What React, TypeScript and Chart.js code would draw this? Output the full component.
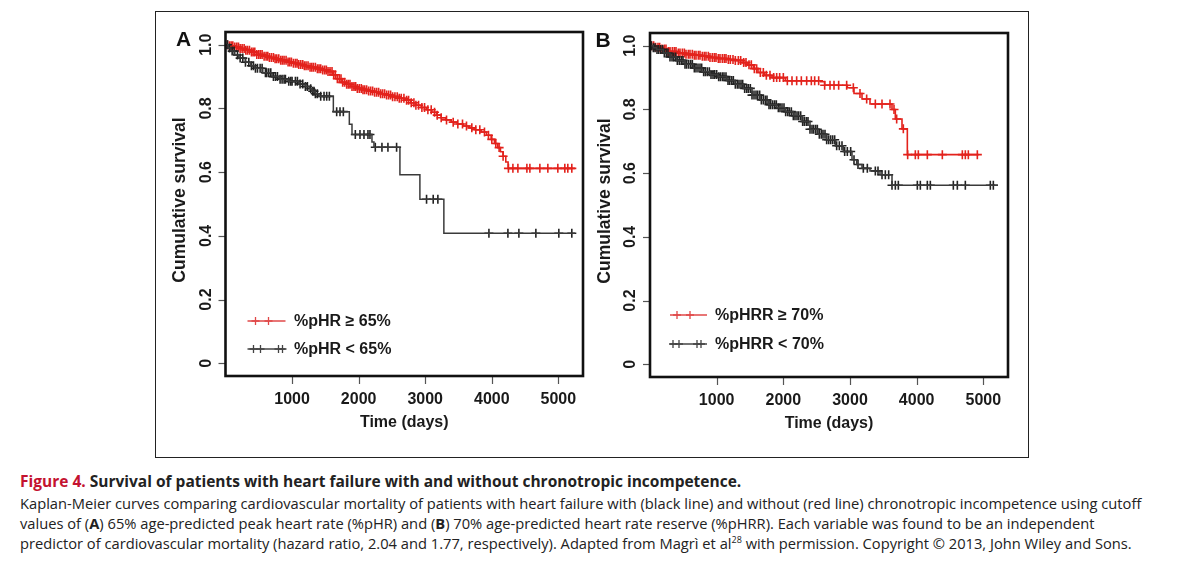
import React, { useEffect, useRef } from "react";
import { Chart, registerables } from "chart.js";
Chart.register(...registerables);

// ---------- axis ticks ----------
const X_TICKS = [1000, 2000, 3000, 4000, 5000];
const Y_TICKS = [0, 0.2, 0.4, 0.6, 0.8, 1.0];
const Y_TICK_LABELS = ["0", "0.2", "0.4", "0.6", "0.8", "1.0"];

// ---------- Panel A : %pHR >= 65% (red) ----------
const A_HI_TIME = [0, 45, 120, 210, 290, 380, 470, 560, 640, 730, 820, 915, 1000, 1090, 1180, 1270, 1360, 1450, 1530, 1610, 1680, 1750, 1810, 1880, 1960, 2050, 2140, 2230, 2330, 2420, 2510, 2600, 2690, 2780, 2860, 2940, 3020, 3100, 3170, 3240, 3310, 3390, 3480, 3570, 3660, 3750, 3840, 3920, 3990, 4040, 4090, 4130, 4170, 4210, 4245, 5250];
const A_HI_SURV = [1.0, 0.997, 0.993, 0.988, 0.983, 0.977, 0.969, 0.964, 0.96, 0.956, 0.951, 0.946, 0.942, 0.938, 0.934, 0.929, 0.925, 0.921, 0.916, 0.906, 0.893, 0.882, 0.876, 0.869, 0.863, 0.859, 0.855, 0.851, 0.846, 0.842, 0.837, 0.832, 0.826, 0.818, 0.81, 0.803, 0.796, 0.788, 0.779, 0.771, 0.764, 0.757, 0.751, 0.745, 0.739, 0.733, 0.726, 0.716, 0.703, 0.69, 0.677, 0.664, 0.65, 0.632, 0.612, 0.612];
const A_HI_CENSOR = [30, 60, 85, 110, 140, 170, 195, 220, 250, 280, 305, 330, 360, 390, 415, 440, 470, 500, 525, 550, 580, 610, 635, 660, 690, 720, 745, 770, 800, 830, 855, 880, 910, 940, 965, 990, 1020, 1050, 1075, 1100, 1130, 1160, 1185, 1210, 1240, 1270, 1295, 1320, 1350, 1380, 1405, 1430, 1460, 1490, 1515, 1540, 1570, 1600, 1625, 1650, 1680, 1710, 1735, 1760, 1790, 1820, 1845, 1870, 1900, 1930, 1955, 1980, 2010, 2040, 2065, 2090, 2120, 2150, 2180, 2210, 2240, 2270, 2300, 2330, 2360, 2390, 2420, 2450, 2480, 2510, 2545, 2580, 2610, 2640, 2680, 2720, 2750, 2790, 2830, 2860, 2900, 2950, 2990, 3040, 3090, 3140, 3180, 3240, 3320, 3420, 3490, 3560, 3620, 3700, 3760, 3820, 3890, 3950, 4000, 4060, 4110, 4170, 4250, 4317, 4392, 4527, 4572, 4722, 4842, 4992, 5097, 5142, 5202];

// ---------- Panel A : %pHR < 65% (black) ----------
const A_LO_TIME = [0, 40, 80, 140, 200, 300, 380, 440, 560, 700, 820, 950, 1100, 1200, 1260, 1300, 1350, 1400, 1620, 1860, 1900, 2200, 2230, 2620, 2920, 3280, 5250];
const A_LO_SURV = [1.0, 0.99, 0.98, 0.968, 0.958, 0.945, 0.934, 0.926, 0.912, 0.9, 0.892, 0.885, 0.877, 0.869, 0.862, 0.854, 0.846, 0.838, 0.79, 0.75, 0.718, 0.695, 0.678, 0.592, 0.515, 0.408, 0.408];
const A_LO_CENSOR = [30, 60, 100, 130, 180, 220, 260, 300, 350, 390, 420, 450, 480, 520, 550, 600, 620, 650, 680, 720, 750, 780, 820, 850, 880, 900, 950, 980, 1000, 1050, 1080, 1120, 1160, 1200, 1230, 1280, 1310, 1330, 1350, 1380, 1430, 1480, 1520, 1560, 1670, 1720, 1770, 1950, 2020, 2080, 2140, 2170, 2250, 2350, 2440, 2570, 3020, 3120, 3190, 3957, 4242, 4407, 4662, 5007, 5202];

// ---------- Panel B : %pHRR >= 70% (red) ----------
const B_HI_TIME = [0, 60, 150, 270, 400, 525, 650, 780, 900, 1020, 1150, 1275, 1400, 1470, 1550, 1620, 1720, 1830, 2030, 2560, 2620, 2960, 3060, 3180, 3300, 3630, 3680, 3780, 3860, 4930];
const B_HI_SURV = [1.0, 0.995, 0.99, 0.982, 0.977, 0.973, 0.97, 0.967, 0.963, 0.96, 0.957, 0.954, 0.947, 0.94, 0.928, 0.916, 0.907, 0.9, 0.89, 0.887, 0.876, 0.868, 0.85, 0.833, 0.817, 0.8, 0.77, 0.739, 0.658, 0.658];
const B_HI_CENSOR = [25, 55, 85, 120, 145, 180, 215, 240, 275, 300, 335, 365, 390, 425, 450, 485, 515, 540, 575, 600, 635, 665, 690, 725, 750, 785, 815, 840, 875, 900, 935, 965, 990, 1025, 1050, 1085, 1115, 1140, 1175, 1205, 1245, 1280, 1325, 1360, 1405, 1440, 1485, 1520, 1565, 1600, 1655, 1700, 1745, 1800, 1855, 1900, 1945, 2000, 2060, 2130, 2200, 2270, 2350, 2420, 2470, 2530, 2620, 2700, 2760, 2830, 2950, 3050, 3150, 3250, 3380, 3480, 3600, 3660, 3700, 3800, 3865, 3980, 4025, 4160, 4385, 4685, 4730, 4775, 4910];

// ---------- Panel B : %pHRR < 70% (black) ----------
const B_LO_TIME = [0, 50, 100, 200, 300, 400, 525, 650, 780, 900, 1020, 1150, 1275, 1400, 1530, 1650, 1780, 1900, 2030, 2150, 2280, 2400, 2520, 2650, 2780, 2900, 3030, 3100, 3180, 3300, 3450, 3630, 5220];
const B_LO_SURV = [1.0, 0.994, 0.988, 0.977, 0.965, 0.954, 0.942, 0.93, 0.918, 0.91, 0.903, 0.891, 0.879, 0.866, 0.845, 0.83, 0.815, 0.805, 0.793, 0.78, 0.762, 0.738, 0.722, 0.705, 0.686, 0.668, 0.642, 0.627, 0.615, 0.607, 0.595, 0.562, 0.562];
const B_LO_CENSOR = [20, 50, 75, 105, 130, 160, 190, 215, 245, 270, 300, 330, 355, 385, 410, 440, 470, 495, 525, 550, 580, 610, 635, 665, 690, 720, 750, 775, 805, 830, 860, 890, 915, 945, 970, 1000, 1030, 1055, 1085, 1110, 1140, 1170, 1195, 1225, 1250, 1280, 1310, 1335, 1365, 1390, 1420, 1450, 1475, 1505, 1530, 1560, 1590, 1615, 1645, 1670, 1700, 1730, 1755, 1785, 1810, 1840, 1870, 1895, 1925, 1950, 1980, 2010, 2035, 2065, 2090, 2120, 2150, 2175, 2205, 2230, 2260, 2290, 2315, 2345, 2370, 2400, 2430, 2455, 2485, 2510, 2540, 2570, 2595, 2625, 2650, 2680, 2710, 2740, 2770, 2800, 2840, 2880, 2920, 2960, 3010, 3060, 3120, 3200, 3260, 3380, 3420, 3480, 3530, 3580, 3630, 3680, 3725, 4010, 4055, 4160, 4205, 4550, 4610, 4730, 5105, 5150];

const RED = "#e3221c";
const BLACK = "#222";
const FONT = "'Liberation Sans', Arial, sans-serif";

function survAt(times: number[], surv: number[], t: number) {
  let v = surv[0];
  for (let i = 0; i < times.length; i++) if (times[i] <= t) v = surv[i];
  return v;
}
const toPts = (t: number[], s: number[]) => t.map((x, i) => ({ x, y: s[i] }));
const censorPts = (c: number[], t: number[], s: number[]) => c.map((x) => ({ x, y: survAt(t, s, x) }));

type PanelCfg = {
  letter: string;
  letterDx: number;
  hi: [number[], number[], number[]];
  lo: [number[], number[], number[]];
  hiLabel: string;
  loLabel: string;
  legX0: number; legX1: number; legTextX: number;
  legRedY: number; legBlackY: number;
  redMarks: number[]; blackMarks: number[];
  pad: { left: number; top: number; right: number; bottom: number };
  left: number;
};

function cross(ctx: CanvasRenderingContext2D, x: number, y: number, r: number) {
  ctx.beginPath();
  ctx.moveTo(x - r, y); ctx.lineTo(x + r, y);
  ctx.moveTo(x, y - r); ctx.lineTo(x, y + r);
  ctx.stroke();
}

function Panel({ cfg }: { cfg: PanelCfg }) {
  const ref = useRef<HTMLCanvasElement>(null);
  useEffect(() => {
    const axesPlugin = {
      id: "rAxes",
      afterDraw(chart: any) {
        const ctx: CanvasRenderingContext2D = chart.ctx;
        const { left, right, top, bottom } = chart.chartArea;
        const xs = chart.scales.x, ys = chart.scales.y;
        ctx.save();
        // ticks
        ctx.strokeStyle = "#555";
        ctx.lineWidth = 1.2;
        X_TICKS.forEach((v) => {
          const px = Math.round(xs.getPixelForValue(v)) + 0.5;
          ctx.beginPath(); ctx.moveTo(px, bottom); ctx.lineTo(px, bottom + 8); ctx.stroke();
        });
        Y_TICKS.forEach((v) => {
          const py = Math.round(ys.getPixelForValue(v)) + 0.5;
          ctx.beginPath(); ctx.moveTo(left - 7, py); ctx.lineTo(left, py); ctx.stroke();
        });
        // box
        ctx.strokeStyle = "#111";
        ctx.lineWidth = 2.6;
        ctx.strokeRect(left, top, right - left, bottom - top);
        // tick labels
        ctx.fillStyle = "#1a1a1a";
        ctx.font = `bold 16px ${FONT}`;
        ctx.textAlign = "center";
        ctx.textBaseline = "middle";
        X_TICKS.forEach((v) => ctx.fillText(String(v), xs.getPixelForValue(v), bottom + 24));
        Y_TICKS.forEach((v, i) => {
          ctx.save();
          ctx.translate(left - 19, ys.getPixelForValue(v));
          ctx.rotate(-Math.PI / 2);
          ctx.fillText(Y_TICK_LABELS[i], 0, 0);
          ctx.restore();
        });
        // axis titles
        ctx.font = `bold 16px ${FONT}`;
        ctx.fillText("Time (days)", (left + right) / 2, bottom + 47);
        ctx.save();
        ctx.translate(left - 45, (top + bottom) / 2 - 4);
        ctx.rotate(-Math.PI / 2);
        ctx.font = `bold 17.5px ${FONT}`;
        ctx.fillText("Cumulative survival", 0, 0);
        ctx.restore();
        // panel letter
        ctx.font = `bold 21px ${FONT}`;
        ctx.fillStyle = "#111";
        ctx.fillText(cfg.letter, left + cfg.letterDx, top + 8);
        // legend
        const x0 = left + cfg.legX0, x1 = left + cfg.legX1;
        const ry = top + cfg.legRedY, by = top + cfg.legBlackY;
        ctx.lineWidth = 1.3;
        ctx.strokeStyle = "#e04848";
        ctx.beginPath(); ctx.moveTo(x0, ry); ctx.lineTo(x1, ry); ctx.stroke();
        cfg.redMarks.forEach((m) => cross(ctx, left + m, ry, 4));
        ctx.strokeStyle = "#444";
        ctx.beginPath(); ctx.moveTo(x0, by); ctx.lineTo(x1, by); ctx.stroke();
        cfg.blackMarks.forEach((m) => cross(ctx, left + m, by, 4));
        ctx.fillStyle = "#1a1a1a";
        ctx.font = `bold 16px ${FONT}`;
        ctx.textAlign = "left";
        ctx.fillText(cfg.hiLabel, left + cfg.legTextX, ry + 1);
        ctx.fillText(cfg.loLabel, left + cfg.legTextX, by + 1);
        ctx.restore();
      },
    };

    const [hT, hS, hC] = cfg.hi;
    const [lT, lS, lC] = cfg.lo;
    const chart = new Chart(ref.current as HTMLCanvasElement, {
      type: "line",
      data: {
        datasets: [
          { data: toPts(lT, lS), borderColor: "#3a3a3a", borderWidth: 1.5, stepped: "before", pointRadius: 0, fill: false } as any,
          { type: "scatter", data: censorPts(lC, lT, lS), pointStyle: "cross", pointRadius: 4.5, borderColor: BLACK, pointBorderWidth: 1.6, showLine: false } as any,
          { data: toPts(hT, hS), borderColor: RED, borderWidth: 1.6, stepped: "before", pointRadius: 0, fill: false } as any,
          { type: "scatter", data: censorPts(hC, hT, hS), pointStyle: "cross", pointRadius: 4.5, borderColor: RED, pointBorderWidth: 1.6, showLine: false } as any,
        ],
      },
      options: {
        animation: false,
        responsive: false,
        maintainAspectRatio: false,
        devicePixelRatio: 1,
        layout: { padding: cfg.pad },
        plugins: { legend: { display: false }, tooltip: { enabled: false } },
        events: [],
        scales: {
          x: { type: "linear", min: 0, max: 5370, display: false },
          y: { type: "linear", min: -0.04, max: 1.04, display: false },
        },
      },
      plugins: [axesPlugin],
    });
    return () => chart.destroy();
  }, []);
  return (
    <canvas
      ref={ref}
      width={430}
      height={440}
      style={{ position: "absolute", left: cfg.left, top: 15, width: 430, height: 440 }}
    />
  );
}

const PANEL_A: PanelCfg = {
  letter: "A", letterDx: -42,
  hi: [A_HI_TIME, A_HI_SURV, A_HI_CENSOR],
  lo: [A_LO_TIME, A_LO_SURV, A_LO_CENSOR],
  hiLabel: "%pHR \u2265 65%", loLabel: "%pHR < 65%",
  legX0: 22, legX1: 60, legTextX: 68.5, legRedY: 289, legBlackY: 317,
  redMarks: [30, 43], blackMarks: [28, 35, 53, 57],
  pad: { left: 65.5, top: 17, right: 7, bottom: 79 },
  left: 160,
};
const PANEL_B: PanelCfg = {
  letter: "B", letterDx: -47,
  hi: [B_HI_TIME, B_HI_SURV, B_HI_CENSOR],
  lo: [B_LO_TIME, B_LO_SURV, B_LO_CENSOR],
  hiLabel: "%pHRR \u2265 70%", loLabel: "%pHRR < 70%",
  legX0: 20, legX1: 57, legTextX: 65, legRedY: 282, legBlackY: 311,
  redMarks: [27, 40], blackMarks: [23, 29, 47, 51],
  pad: { left: 65, top: 18, right: 7, bottom: 78 },
  left: 585,
};

export default function App() {
  const cap: React.CSSProperties = {
    position: "absolute", left: 20, whiteSpace: "nowrap",
    fontFamily: "'Open Sans', 'Noto Sans', sans-serif", fontSize: 14.7, color: "#222", lineHeight: "20px",
  };
  return (
    <div style={{ position: "absolute", left: 0, top: 0, width: 1200, height: 563, background: "#fff", overflow: "hidden" }}>
      <div style={{ position: "absolute", left: 155, top: 11, width: 872, height: 445, border: "1.5px solid #222" }} />
      <Panel cfg={PANEL_A} />
      <Panel cfg={PANEL_B} />
      <div style={{ ...cap, top: 471, fontWeight: 700, fontSize: 15.5 }}>
        <span style={{ color: "#c4122f" }}>Figure 4.</span> Survival of patients with heart failure with and without chronotropic incompetence.
      </div>
      <div style={{ ...cap, top: 493 }}>
        Kaplan-Meier curves comparing cardiovascular mortality of patients with heart failure with (black line) and without (red line) chronotropic incompetence using cutoff
      </div>
      <div style={{ ...cap, top: 513 }}>
        values of (<b>A</b>) 65% age-predicted peak heart rate (%pHR) and (<b>B</b>) 70% age-predicted heart rate reserve (%pHRR). Each variable was found to be an independent
      </div>
      <div style={{ ...cap, top: 533 }}>
        predictor of cardiovascular mortality (hazard ratio, 2.04 and 1.77, respectively). Adapted from Magrì et al<sup style={{ fontSize: 9, lineHeight: 0 }}>28</sup> with permission. Copyright © 2013, John Wiley and Sons.
      </div>
    </div>
  );
}
